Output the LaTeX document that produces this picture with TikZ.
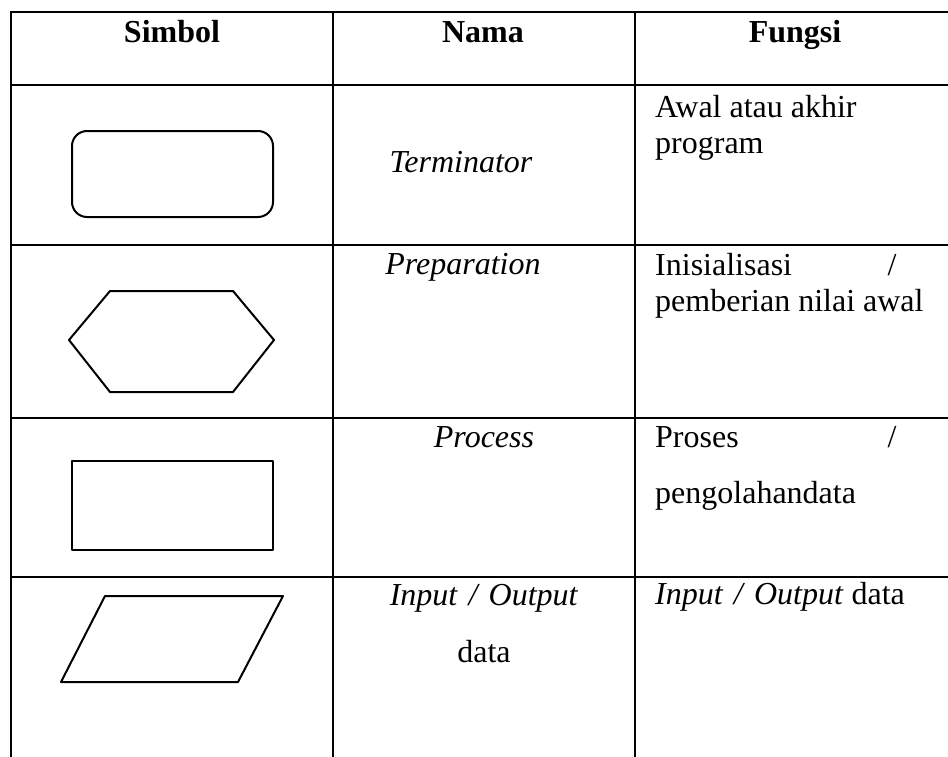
\documentclass[tikz,border=0pt]{standalone}
\usepackage{fontspec}
\setmainfont{Liberation Serif}
\usetikzlibrary{positioning}
\tikzset{rule/.style={line width=2.6pt, line cap=rect},
  symbol/.style={line width=2pt, line join=round},
  head/.style={font=\fontsize{32}{38}\selectfont\bfseries, anchor=base, inner sep=0pt},
  cell/.style={font=\fontsize{32}{38}\selectfont, anchor=base, inner sep=0pt},
  cellleft/.style={cell, anchor=base west}}
\newcommand{\inout}{\textit{Input\hspace{0.35em}/\hspace{0.35em}Output}}

\begin{document}
\begin{tikzpicture}[x=1pt, y=-1pt]
\useasboundingbox (0,0) rectangle (948,756);
\fill[white] (0,0) rectangle (948,756);
\draw[rule] (11,12) -- (948,12);
\foreach \y in {85,245,418,577} \draw[rule] (11,\y) -- (948,\y);
\foreach \x in {11,333,635} \draw[rule] (\x,12) -- (\x,756);
\node[head] (hSimbol) at (172,42) {Simbol};
\node[head] (hNama) at (483,42) {Nama};
\node[head] (hFungsi) at (795,42) {Fungsi};
\draw[symbol, rounded corners=15pt] (72,131) rectangle (273,217);
\node[cell] (nTerm) at (461,172) {\textit{Terminator}};
\node[cellleft] (fTerm) at (655,117) {Awal atau akhir};
\node[cellleft] (fTermB) at (655,153) {program};
\draw[symbol] (69,340) -- (110,291) -- (233,291) -- (274,340) -- (233,392) -- (110,392) -- cycle;
\node[cell] (nPrep) at (463,274) {\textit{Preparation}};
\node[cellleft] (fPrep) at (655,275) {Inisialisasi};
\node[cell] (fPrepSlash) at (892,275) {/};
\node[cellleft] (fPrepB) at (655,311) {pemberian nilai awal};
\draw[symbol] (72,461) rectangle (273,550);
\node[cell] (nProc) at (484,447) {\textit{Process}};
\node[cellleft] (fProc) at (655,447) {Proses};
\node[cell] (fProcSlash) at (892,447) {/};
\node[cellleft] (fProcB) at (655,503) {pengolahandata};
\draw[symbol] (105,596) -- (283,596) -- (238,682) -- (61,682) -- cycle;
\node[cell] (nIO) at (484,605) {\inout};
\node[cell] (nIOB) at (484,662) {data};
\node[cellleft] (fIO) at (655,604) {\inout{} data};
\end{tikzpicture}
\end{document}
